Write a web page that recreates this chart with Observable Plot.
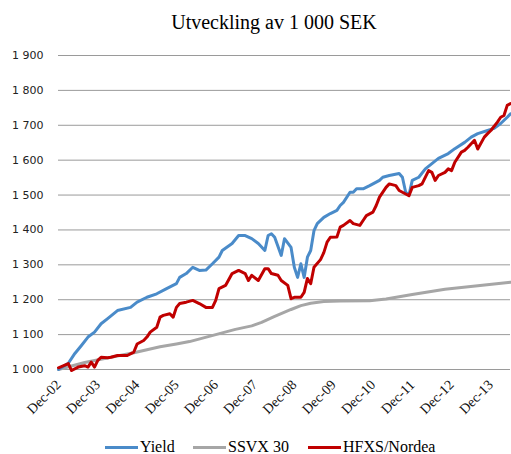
<!DOCTYPE html>
<html><head><meta charset="utf-8">
<script src="https://cdn.jsdelivr.net/npm/d3@7"></script>
<script src="https://cdn.jsdelivr.net/npm/@observablehq/plot@0.6"></script>
<style>
html,body{margin:0;padding:0;background:#fff;}
body{width:511px;height:454px;overflow:hidden;position:relative;font-family:"Liberation Serif","Times New Roman",serif;color:#000;}
#title{position:absolute;top:12px;left:37px;width:474px;text-align:center;font-size:20px;line-height:20px;}
#chart{position:absolute;top:40px;left:0;}
#legend{position:absolute;top:438px;left:0;width:511px;height:18px;font-size:16px;line-height:18px;}
.item{position:absolute;top:0;white-space:nowrap;}
.sw{position:absolute;top:8px;left:0;width:33px;height:3px;}
.lab{position:absolute;top:0;left:35px;}
#chart g[aria-label="x-axis tick label"] text{font-family:"Liberation Serif","Times New Roman",serif !important;font-size:14px !important;}
#chart g[aria-label="y-axis tick label"] text{font-family:"DejaVu Sans",sans-serif !important;font-size:11px !important;}
</style></head><body>
<div id="title">Utveckling av 1 000 SEK</div>
<div id="chart"></div>
<div id="legend"></div>
<script>
// x: months since Dec-02
const tickMonths = [0,12,24,36,48,60,72,84,96,108,120,132];
const tickLabels = ["Dec-02","Dec-03","Dec-04","Dec-05","Dec-06","Dec-07","Dec-08","Dec-09","Dec-10","Dec-11","Dec-12","Dec-13"];
const yTicks = [1000,1100,1200,1300,1400,1500,1600,1700,1800,1900];

const seriesNames = ["Yield","SSVX 30","HFXS/Nordea"];
const seriesColors = ["#4a8bc9","#a6a6a6","#c00000"];

const yieldMonths = [0,3,5,7,9,11,13,15,18,22,24,27,30,33,36,37,39,41,43,45,47,49,50,53,55,57,59,61,63,64,65,66,68,69,71,72,73,74,75,76,77,78,79,81,83,85,86,87,89,90,91,93,95,98,99,101,104,105,106,107,108,110,112,114,116,119,121,124,126,128,131,133,135,137,138];
const yieldValues = [1000,1018,1046,1069,1093,1107,1131,1146,1169,1178,1193,1207,1217,1232,1246,1264,1275,1293,1284,1285,1303,1322,1341,1361,1384,1384,1375,1361,1341,1384,1389,1379,1327,1375,1350,1293,1264,1303,1264,1322,1341,1398,1418,1436,1447,1456,1470,1479,1508,1508,1518,1518,1527,1542,1551,1556,1562,1551,1508,1500,1542,1551,1575,1590,1605,1619,1633,1651,1666,1676,1685,1691,1705,1723,1733];

const ssvxMonths = [0,8,16,23,31,36,40,46,54,59,62,66,71,74,77,81,86,95,100,108,118,128,138];
const ssvxValues = [1000,1020,1035,1048,1065,1073,1080,1095,1115,1125,1135,1152,1172,1183,1190,1195,1196,1197,1202,1215,1230,1240,1250];

const hfxsMonths = [0,3,4,6,8,9,10,11,12,13,15,16,18,20,21,23,24,26,27,28,30,31,32,34,35,36,37,39,41,43,45,47,48,49,51,53,55,57,58,59,61,63,64,65,67,68,70,71,72,74,75,76,77,78,80,81,82,83,85,86,87,89,90,92,93,94,96,97,98,100,101,103,104,106,107,108,110,111,113,114,115,116,118,119,120,121,123,124,125,126,127,128,130,131,132,134,135,136,137,138];
const hfxsValues = [1005,1017,997,1007,1011,1007,1021,1007,1026,1035,1034,1035,1040,1040,1040,1050,1073,1083,1093,1107,1121,1150,1155,1160,1150,1178,1189,1193,1198,1189,1178,1178,1198,1232,1241,1275,1284,1275,1255,1270,1255,1289,1289,1275,1270,1255,1241,1203,1207,1207,1221,1261,1246,1293,1315,1335,1365,1379,1380,1408,1413,1427,1418,1413,1427,1441,1451,1470,1494,1522,1532,1527,1513,1503,1498,1522,1527,1532,1570,1565,1542,1556,1565,1575,1570,1594,1623,1628,1637,1647,1657,1632,1666,1676,1685,1709,1723,1728,1757,1762];

const rows = [
  ...ssvxMonths.map((m,i)=>({series:"SSVX 30",month:m,value:ssvxValues[i]})),
  ...yieldMonths.map((m,i)=>({series:"Yield",month:m,value:yieldValues[i]})),
  ...hfxsMonths.map((m,i)=>({series:"HFXS/Nordea",month:m,value:hfxsValues[i]}))
];

const fmt = d => String(d).replace(/(\d)(\d{3})$/, "$1 $2");

const chart = Plot.plot({
  width: 511, height: 398,
  marginLeft: 58, marginRight: 1, marginTop: 15, marginBottom: 69,
  x: {domain: [0, 138], axis: null, label: null},
  y: {domain: [1000, 1900], axis: null, label: null},
  color: {domain: seriesNames, range: seriesColors},
  marks: [
    Plot.ruleY(yTicks, {stroke: "#9a9a9a", strokeWidth: 1}),
    Plot.axisY(yTicks, {tickSize: 0, tickPadding: 15, tickFormat: fmt, label: null, fill: "#222"}),
    Plot.axisX(tickMonths, {tickSize: 0, tickPadding: 13, tickRotate: -45, label: null, tickFormat: d => tickLabels[tickMonths.indexOf(d)], fill: "#111"}),
    Plot.line(rows, {x: "month", y: "value", z: "series", stroke: "series", strokeWidth: 3, strokeLinejoin: "round"})
  ]
});
document.getElementById("chart").appendChild(chart);

const lefts = [105, 193, 308];
const legend = document.getElementById("legend");
seriesNames.forEach((name, i) => {
  const it = document.createElement("div");
  it.className = "item";
  it.style.left = lefts[i] + "px";
  it.innerHTML = `<div class="sw" style="background:${seriesColors[i]}"></div><span class="lab">${name}</span>`;
  legend.appendChild(it);
});
</script>
</body></html>
